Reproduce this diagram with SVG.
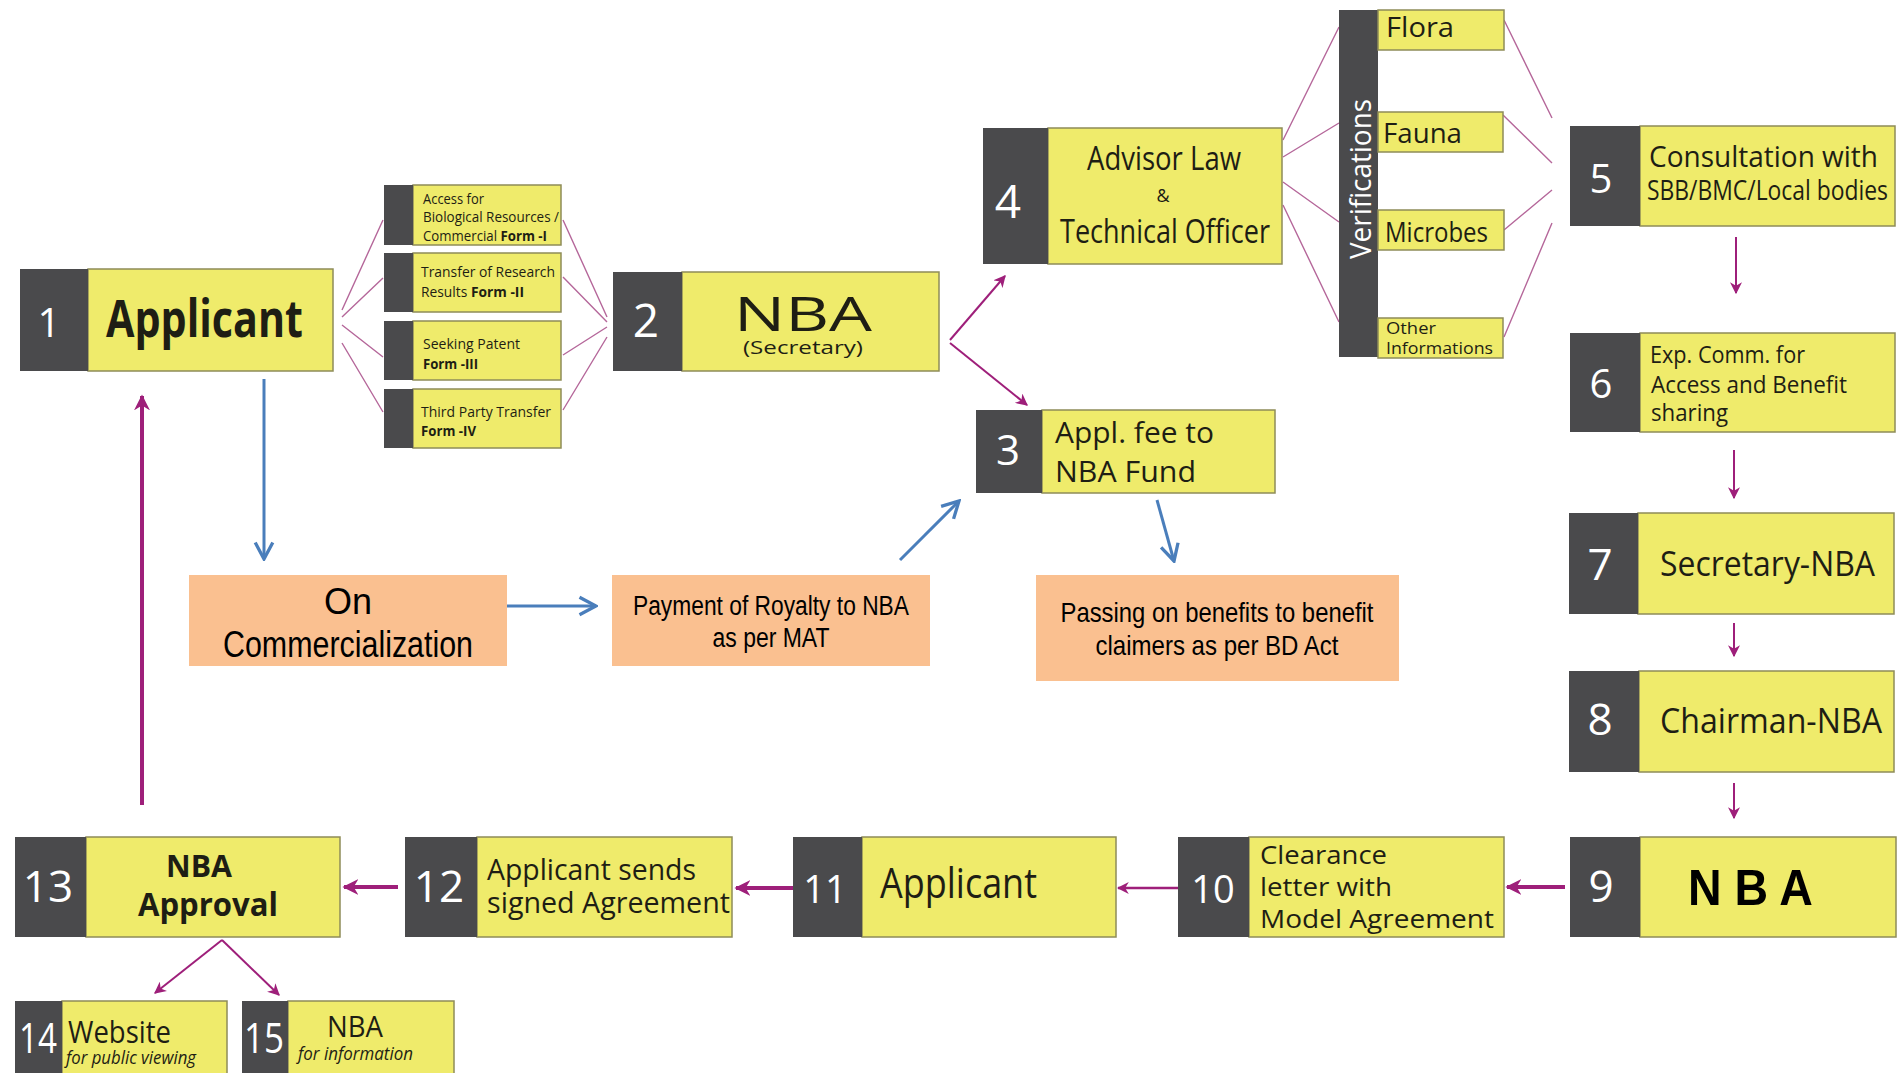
<svg xmlns="http://www.w3.org/2000/svg" width="1899" height="1073" viewBox="0 0 1899 1073">
<style>
.dk{fill:#4A4A4C}
.yl{fill:#EFEB6B;stroke:#8E8C58;stroke-width:1.5}
.pc{fill:#FAC090}
.num{font-family:"Open Sans","Noto Sans",sans-serif;fill:#FFFFFF;text-anchor:middle}
.t{font-family:"Open Sans","Noto Sans",sans-serif;fill:#1E1E14}
.a{font-family:"Liberation Sans",Arial,sans-serif;fill:#000000}
.fan{stroke:#B5679A;stroke-width:1.4;fill:none}
.pp{stroke:#9E1F7A;fill:none}
.bl{stroke:#4A7EBB;stroke-width:3;fill:none}
</style>
<defs>
<marker id="ap" viewBox="0 0 10 10" refX="9" refY="5" markerWidth="12" markerHeight="12" markerUnits="userSpaceOnUse" orient="auto"><path d="M0,0 L10,5 L0,10 L3,5 z" fill="#9E1F7A"/></marker>
<marker id="apL" viewBox="0 0 10 10" refX="9" refY="5" markerWidth="16" markerHeight="16" markerUnits="userSpaceOnUse" orient="auto"><path d="M0,0 L10,5 L0,10 L3,5 z" fill="#9E1F7A"/></marker>
<marker id="ab" viewBox="0 0 20 20" refX="18" refY="10" markerWidth="22" markerHeight="22" markerUnits="userSpaceOnUse" orient="auto"><path d="M3,2 L18,10 L3,18" fill="none" stroke="#4A7EBB" stroke-width="3"/></marker>
</defs>
<rect width="1899" height="1073" fill="#FFFFFF"/>

<g id="connectors">
<path class="fan" d="M342,310 L383,220 M342,317 L383,278 M342,325 L383,357 M342,343 L383,412"/>
<path class="fan" d="M563,220 L607,317 M563,277 L607,322 M563,355 L607,327 M563,410 L607,337"/>
<path class="fan" d="M1283,140 L1339,27 M1283,157 L1339,123 M1283,182 L1339,222 M1283,205 L1339,322"/>
<path class="fan" d="M1504,20 L1552,118 M1503,115 L1552,163 M1504,230 L1552,190 M1504,337 L1552,223"/>
<line class="pp" stroke-width="2" x1="950" y1="340" x2="1005" y2="276" marker-end="url(#ap)"/>
<line class="pp" stroke-width="2" x1="950" y1="343" x2="1027" y2="405" marker-end="url(#ap)"/>
<line class="pp" stroke-width="2" x1="1736" y1="237" x2="1736" y2="293" marker-end="url(#ap)"/>
<line class="pp" stroke-width="2" x1="1734" y1="450" x2="1734" y2="498" marker-end="url(#ap)"/>
<line class="pp" stroke-width="2" x1="1734" y1="623" x2="1734" y2="656" marker-end="url(#ap)"/>
<line class="pp" stroke-width="2" x1="1734" y1="783" x2="1734" y2="818" marker-end="url(#ap)"/>
<line class="pp" stroke-width="4" x1="1565" y1="887" x2="1507" y2="887" marker-end="url(#apL)"/>
<line class="pp" stroke-width="2.5" x1="1178" y1="888" x2="1118" y2="888" marker-end="url(#ap)"/>
<line class="pp" stroke-width="4" x1="793" y1="888" x2="736" y2="888" marker-end="url(#apL)"/>
<line class="pp" stroke-width="4" x1="398" y1="887" x2="344" y2="887" marker-end="url(#apL)"/>
<line class="pp" stroke-width="4" x1="142" y1="805" x2="142" y2="396" marker-end="url(#apL)"/>
<line class="pp" stroke-width="2" x1="222" y1="940" x2="155" y2="993" marker-end="url(#ap)"/>
<line class="pp" stroke-width="2" x1="222" y1="940" x2="279" y2="995" marker-end="url(#ap)"/>
<line class="bl" x1="264" y1="379" x2="264" y2="559" marker-end="url(#ab)"/>
<line class="bl" x1="507" y1="606" x2="596" y2="606" marker-end="url(#ab)"/>
<line class="bl" x1="900" y1="560" x2="959" y2="501" marker-end="url(#ab)"/>
<line class="bl" x1="1157" y1="500" x2="1174" y2="561" marker-end="url(#ab)"/>
</g>

<g id="n1">
<rect class="yl" x="88" y="269" width="245" height="102"/>
<rect class="dk" x="20" y="269" width="68" height="102"/>
<text class="num" x="49" y="337" font-size="40">1</text>
<text class="t" x="106" y="337" font-size="52" font-weight="bold" textLength="197" lengthAdjust="spacingAndGlyphs">Applicant</text>
</g>

<g id="f1">
<rect class="yl" x="413" y="185" width="148" height="60"/>
<rect class="dk" x="384" y="185" width="29" height="60"/>
<text class="t" x="423" y="204" font-size="14" textLength="61" lengthAdjust="spacingAndGlyphs">Access for</text>
<text class="t" x="423" y="222" font-size="14" textLength="136" lengthAdjust="spacingAndGlyphs">Biological Resources /</text>
<text class="t" x="423" y="241" font-size="14" textLength="124" lengthAdjust="spacingAndGlyphs">Commercial <tspan font-weight="bold">Form -I</tspan></text>
</g>
<g id="f2">
<rect class="yl" x="413" y="253" width="148" height="59"/>
<rect class="dk" x="384" y="253" width="29" height="59"/>
<text class="t" x="421" y="277" font-size="15" textLength="134" lengthAdjust="spacingAndGlyphs">Transfer of Research</text>
<text class="t" x="421" y="297" font-size="15" textLength="103" lengthAdjust="spacingAndGlyphs">Results <tspan font-weight="bold">Form -II</tspan></text>
</g>
<g id="f3">
<rect class="yl" x="413" y="321" width="148" height="59"/>
<rect class="dk" x="384" y="321" width="29" height="59"/>
<text class="t" x="423" y="349" font-size="15" textLength="97" lengthAdjust="spacingAndGlyphs">Seeking Patent</text>
<text class="t" x="423" y="369" font-size="15" font-weight="bold" textLength="55" lengthAdjust="spacingAndGlyphs">Form -III</text>
</g>
<g id="f4">
<rect class="yl" x="413" y="389" width="148" height="59"/>
<rect class="dk" x="384" y="389" width="29" height="59"/>
<text class="t" x="421" y="417" font-size="15" textLength="130" lengthAdjust="spacingAndGlyphs">Third Party Transfer</text>
<text class="t" x="421" y="436" font-size="15" font-weight="bold" textLength="55" lengthAdjust="spacingAndGlyphs">Form -IV</text>
</g>

<g id="n2">
<rect class="yl" x="682" y="272" width="257" height="99"/>
<rect class="dk" x="613" y="272" width="69" height="99"/>
<text class="num" x="646" y="337" font-size="46">2</text>
<text class="t" x="803" y="331" font-size="47" text-anchor="middle" textLength="138" lengthAdjust="spacingAndGlyphs">NBA</text>
<text class="t" x="803" y="354" font-size="19" text-anchor="middle" textLength="120" lengthAdjust="spacingAndGlyphs">(Secretary)</text>
</g>

<g id="n3">
<rect class="yl" x="1042" y="410" width="233" height="83"/>
<rect class="dk" x="976" y="410" width="66" height="83"/>
<text class="num" x="1008" y="465" font-size="42">3</text>
<text class="t" x="1055" y="443" font-size="30" textLength="159" lengthAdjust="spacingAndGlyphs">Appl. fee to</text>
<text class="t" x="1055" y="482" font-size="30" textLength="141" lengthAdjust="spacingAndGlyphs">NBA Fund</text>
</g>

<g id="n4">
<rect class="yl" x="1048" y="128" width="234" height="136"/>
<rect class="dk" x="983" y="128" width="65" height="136"/>
<text class="num" x="1008" y="218" font-size="46">4</text>
<text class="t" x="1164" y="170" font-size="32" text-anchor="middle" textLength="154" lengthAdjust="spacingAndGlyphs">Advisor Law</text>
<text class="t" x="1163" y="202" font-size="18" text-anchor="middle">&amp;</text>
<text class="t" x="1165" y="243" font-size="32" text-anchor="middle" textLength="210" lengthAdjust="spacingAndGlyphs">Technical Officer</text>
</g>

<g id="verifications">
<rect class="dk" x="1339" y="10" width="39" height="347"/>
<text class="num" transform="translate(1371,179) rotate(-90)" font-size="29" textLength="160" lengthAdjust="spacingAndGlyphs">Verifications</text>
</g>
<g id="flora">
<rect class="yl" x="1378" y="10" width="126" height="40"/>
<text class="t" x="1386" y="37" font-size="28" textLength="68" lengthAdjust="spacingAndGlyphs">Flora</text>
</g>
<g id="fauna">
<rect class="yl" x="1378" y="112" width="125" height="40"/>
<text class="t" x="1383" y="143" font-size="28" textLength="79" lengthAdjust="spacingAndGlyphs">Fauna</text>
</g>
<g id="microbes">
<rect class="yl" x="1378" y="210" width="126" height="40"/>
<text class="t" x="1385" y="242" font-size="28" textLength="103" lengthAdjust="spacingAndGlyphs">Microbes</text>
</g>
<g id="other">
<rect class="yl" x="1378" y="318" width="125" height="40"/>
<text class="t" x="1386" y="334" font-size="17" textLength="50" lengthAdjust="spacingAndGlyphs">Other</text>
<text class="t" x="1386" y="354" font-size="17" textLength="107" lengthAdjust="spacingAndGlyphs">Informations</text>
</g>

<g id="n5">
<rect class="yl" x="1640" y="126" width="255" height="100"/>
<rect class="dk" x="1570" y="126" width="70" height="100"/>
<text class="num" x="1601" y="193" font-size="40">5</text>
<text class="t" x="1649" y="167" font-size="30" textLength="229" lengthAdjust="spacingAndGlyphs">Consultation with</text>
<text class="t" x="1647" y="200" font-size="28" textLength="241" lengthAdjust="spacingAndGlyphs">SBB/BMC/Local bodies</text>
</g>

<g id="n6">
<rect class="yl" x="1640" y="333" width="255" height="99"/>
<rect class="dk" x="1570" y="333" width="70" height="99"/>
<text class="num" x="1601" y="398" font-size="40">6</text>
<text class="t" x="1650" y="363" font-size="24" textLength="155" lengthAdjust="spacingAndGlyphs">Exp. Comm. for</text>
<text class="t" x="1651" y="393" font-size="24" textLength="196" lengthAdjust="spacingAndGlyphs">Access and Benefit</text>
<text class="t" x="1651" y="421" font-size="24" textLength="77" lengthAdjust="spacingAndGlyphs">sharing</text>
</g>

<g id="n7">
<rect class="yl" x="1638" y="513" width="256" height="101"/>
<rect class="dk" x="1569" y="513" width="69" height="101"/>
<text class="num" x="1600" y="580" font-size="44">7</text>
<text class="t" x="1660" y="576" font-size="34" textLength="215" lengthAdjust="spacingAndGlyphs">Secretary-NBA</text>
</g>

<g id="n8">
<rect class="yl" x="1639" y="671" width="255" height="101"/>
<rect class="dk" x="1569" y="671" width="70" height="101"/>
<text class="num" x="1600" y="735" font-size="44">8</text>
<text class="t" x="1660" y="733" font-size="34" textLength="222" lengthAdjust="spacingAndGlyphs">Chairman-NBA</text>
</g>

<g id="n9">
<rect class="yl" x="1640" y="837" width="256" height="100"/>
<rect class="dk" x="1570" y="837" width="70" height="100"/>
<text class="num" x="1601" y="902" font-size="44">9</text>
<text class="a" x="1688" y="905" font-size="50" font-weight="bold" textLength="125" lengthAdjust="spacingAndGlyphs">N B A</text>
</g>

<g id="n10">
<rect class="yl" x="1249" y="837" width="255" height="100"/>
<rect class="dk" x="1178" y="837" width="71" height="100"/>
<text class="num" x="1213" y="903" font-size="38">10</text>
<text class="t" x="1260" y="864" font-size="26" textLength="127" lengthAdjust="spacingAndGlyphs">Clearance</text>
<text class="t" x="1260" y="896" font-size="26" textLength="132" lengthAdjust="spacingAndGlyphs">letter with</text>
<text class="t" x="1260" y="928" font-size="26" textLength="234" lengthAdjust="spacingAndGlyphs">Model Agreement</text>
</g>

<g id="n11">
<rect class="yl" x="862" y="837" width="254" height="100"/>
<rect class="dk" x="793" y="837" width="69" height="100"/>
<text class="num" x="825" y="903" font-size="38">11</text>
<text class="t" x="880" y="898" font-size="42" textLength="157" lengthAdjust="spacingAndGlyphs">Applicant</text>
</g>

<g id="n12">
<rect class="yl" x="477" y="837" width="255" height="100"/>
<rect class="dk" x="405" y="837" width="72" height="100"/>
<text class="num" x="439" y="902" font-size="44">12</text>
<text class="t" x="487" y="880" font-size="30" textLength="209" lengthAdjust="spacingAndGlyphs">Applicant sends</text>
<text class="t" x="487" y="913" font-size="30" textLength="243" lengthAdjust="spacingAndGlyphs">signed Agreement</text>
</g>

<g id="n13">
<rect class="yl" x="86" y="837" width="254" height="100"/>
<rect class="dk" x="15" y="837" width="71" height="100"/>
<text class="num" x="48" y="902" font-size="44">13</text>
<text class="t" x="199" y="877" font-size="31" font-weight="bold" text-anchor="middle" textLength="66" lengthAdjust="spacingAndGlyphs">NBA</text>
<text class="t" x="208" y="916" font-size="33" font-weight="bold" text-anchor="middle" textLength="140" lengthAdjust="spacingAndGlyphs">Approval</text>
</g>

<g id="n14">
<rect class="yl" x="62" y="1001" width="165" height="80"/>
<rect class="dk" x="15" y="1001" width="47" height="80"/>
<text class="num" x="38" y="1053" font-size="42" textLength="38" lengthAdjust="spacingAndGlyphs">14</text>
<text class="t" x="68" y="1043" font-size="31" textLength="103" lengthAdjust="spacingAndGlyphs">Website</text>
<text class="t" x="66" y="1064" font-size="18" font-style="italic" textLength="130" lengthAdjust="spacingAndGlyphs">for public viewing</text>
</g>

<g id="n15">
<rect class="yl" x="288" y="1001" width="166" height="80"/>
<rect class="dk" x="242" y="1001" width="46" height="80"/>
<text class="num" x="264" y="1053" font-size="42" textLength="40" lengthAdjust="spacingAndGlyphs">15</text>
<text class="t" x="327" y="1037" font-size="30" textLength="56" lengthAdjust="spacingAndGlyphs">NBA</text>
<text class="t" x="298" y="1060" font-size="18" font-style="italic" textLength="115" lengthAdjust="spacingAndGlyphs">for information</text>
</g>

<g id="commercialization">
<rect class="pc" x="189" y="575" width="318" height="91"/>
<text class="a" x="348" y="614" font-size="36" text-anchor="middle">On</text>
<text class="a" x="348" y="657" font-size="36" text-anchor="middle" textLength="250" lengthAdjust="spacingAndGlyphs">Commercialization</text>
</g>

<g id="payment">
<rect class="pc" x="612" y="575" width="318" height="91"/>
<text class="a" x="771" y="615" font-size="27" text-anchor="middle" textLength="276" lengthAdjust="spacingAndGlyphs">Payment of Royalty to NBA</text>
<text class="a" x="771" y="647" font-size="27" text-anchor="middle" textLength="117" lengthAdjust="spacingAndGlyphs">as per MAT</text>
</g>

<g id="passing">
<rect class="pc" x="1036" y="575" width="363" height="106"/>
<text class="a" x="1217" y="622" font-size="28" text-anchor="middle" textLength="313" lengthAdjust="spacingAndGlyphs">Passing on benefits to benefit</text>
<text class="a" x="1217" y="655" font-size="28" text-anchor="middle" textLength="243" lengthAdjust="spacingAndGlyphs">claimers as per BD Act</text>
</g>
</svg>
